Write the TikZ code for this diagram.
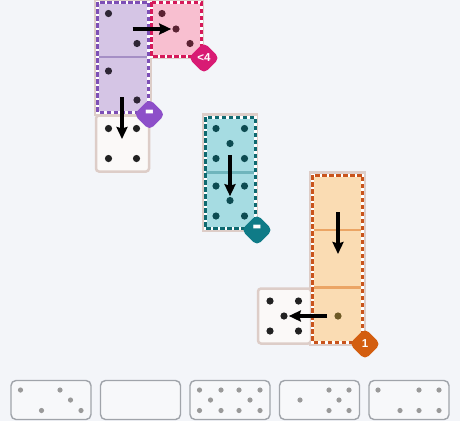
\documentclass[tikz,border=0pt]{standalone}
\usepackage{fontspec}
\setmainfont{Liberation Sans}
\newfontfamily\dejab{DejaVu Sans}
\usetikzlibrary{arrows.meta}
\definecolor{bg}{HTML}{F3F5F9}
\definecolor{basebd}{HTML}{DDCDC8}
\definecolor{wfill}{HTML}{FBF9F8}
\definecolor{wdot}{HTML}{222222}
\definecolor{pufill}{HTML}{D5C5E5}
\definecolor{pubd}{HTML}{7D4FB6}
\definecolor{pusep}{HTML}{A58FC5}
\definecolor{pudot}{HTML}{2E2635}
\definecolor{pkfill}{HTML}{F8BFD0}
\definecolor{pkbd}{HTML}{D51A5A}
\definecolor{pkdot}{HTML}{5B2333}
\definecolor{tefill}{HTML}{A6DCE2}
\definecolor{tebd}{HTML}{0E6970}
\definecolor{tesep}{HTML}{6FB5BC}
\definecolor{tedot}{HTML}{0D4B51}
\definecolor{orfill}{HTML}{FADCB3}
\definecolor{orbd}{HTML}{C9541C}
\definecolor{orsep}{HTML}{EBA565}
\definecolor{ordot}{HTML}{6E5A26}
\definecolor{bgpk}{HTML}{D81B74}
\definecolor{bgpu}{HTML}{8D4FC9}
\definecolor{bgte}{HTML}{0F7B87}
\definecolor{bgor}{HTML}{D35E10}
\definecolor{traybd}{HTML}{A0A4AA}
\definecolor{trayfill}{HTML}{F7F8FA}
\definecolor{traydot}{HTML}{9A9A9A}
\tikzset{
  whitecell/.style={draw=basebd, fill=wfill, line width=2.5pt, rounded corners=3pt, inner sep=0pt, outer sep=0pt},
  basecell/.style={draw=basebd, fill=white, line width=2.5pt, inner sep=0pt, outer sep=0pt},
  domfill/.style={fill=#1, draw=white, line width=3pt, inner sep=0pt, outer sep=0pt},
  domborder/.style={draw=#1, line width=3pt, dash pattern=on 4.5pt off 2.5pt},
  sepline/.style={draw=#1, line width=2.5pt},
  arr/.style={-{Stealth[length=12pt,width=11pt,inset=1.5pt]}, line width=3.2pt, black},
  badge/.style={fill=#1, rotate=45, minimum size=22pt, rounded corners=5pt, inner sep=0pt},
  badgetext/.style={text=white, font=\bfseries\fontsize{11.5}{11.5}\selectfont, inner sep=0pt},
  badgedash/.style={text=white, font=\dejab\bfseries\fontsize{13}{13}\selectfont, inner sep=0pt},
  traybox/.style={draw=traybd, fill=trayfill, line width=1.4pt, rounded corners=5pt, minimum width=80pt, minimum height=39pt, inner sep=0pt},
}
\begin{document}
\begin{tikzpicture}[x=1pt,y=-1pt]
\fill[bg] (0,0) rectangle (460,421);
\useasboundingbox (0,0) rectangle (460,421);

% base cells under dominoes
\node[basecell, minimum width=55pt, minimum height=115pt] (pubase) at (123,57) {};
\node[basecell, minimum width=54pt, minimum height=58pt] (pkbase) at (176,29) {};
\node[basecell, minimum width=54pt, minimum height=116pt] (tebase) at (230,172.5) {};
\node[basecell, minimum width=54pt, minimum height=172pt] (orbase) at (337.5,258.5) {};

% white cells
\node[whitecell, minimum width=53pt, minimum height=56pt] (w1) at (122.5,143.5) {};
\node[whitecell, minimum width=53pt, minimum height=55pt] (w2) at (284.5,316) {};

% purple domino
\node[domfill=pufill, minimum width=51pt, minimum height=110pt] (pu) at (123,57) {};
\draw[sepline=pusep] (99,57) -- (147,57);
\draw[domborder=pubd] (pu.north west) rectangle (pu.south east);
% pink cell
\node[domfill=pkfill, minimum width=50pt, minimum height=54pt] (pk) at (176,29) {};
\draw[domborder=pkbd] (pk.north west) rectangle (pk.south east);
% teal domino
\node[domfill=tefill, minimum width=50pt, minimum height=111pt] (te) at (230,172.5) {};
\draw[sepline=tesep] (206,172.5) -- (254,172.5);
\draw[domborder=tebd] (te.north west) rectangle (te.south east);
% orange domino
\node[domfill=orfill, minimum width=50pt, minimum height=167pt] (or) at (337.5,258.5) {};
\draw[sepline=orsep] (314,230) -- (361,230);
\draw[sepline=orsep] (314,287.5) -- (361,287.5);
\draw[domborder=orbd] (or.north west) rectangle (or.south east);

% dots
\foreach \p in {(108.5,13.5),(137,43.5),(108.5,71),(137,100)} \fill[pudot] \p circle (3.6pt);
\foreach \p in {(162,13.5),(190,43.5)} \fill[pkdot] \p circle (3.6pt);
\node[circle, fill=pkdot, minimum size=7.2pt, inner sep=0pt] (pkc) at (176,29) {};
\foreach \p in {(108.5,128.5),(136.5,128.5),(108.5,158.5),(136.5,158.5)} \fill[wdot] \p circle (3.6pt);
\foreach \p in {(216,128.5),(244.5,128.5),(230,143.5),(216,158.5),(244.5,158.5),
                (216,186),(244.5,186),(216,216),(244.5,216)} \fill[tedot] \p circle (3.6pt);
\node[circle, fill=tedot, minimum size=7.2pt, inner sep=0pt] (tec) at (230,200.5) {};
\node[circle, fill=ordot, minimum size=7.2pt, inner sep=0pt] (orc) at (338,316) {};
\foreach \p in {(270,301),(298.5,301),(270,331),(298.5,331)} \fill[wdot] \p circle (3.6pt);
\node[circle, fill=wdot, minimum size=7.2pt, inner sep=0pt] (w2c) at (284,316) {};

% arrows
\coordinate (a1) at (132.5,29);
\draw[arr, shorten >=1pt] (a1) -- (pkc);
\coordinate (a2) at (122,97);
\coordinate (a2e) at (122,139);
\draw[arr] (a2) -- (a2e);
\coordinate (a3) at (230,155);
\draw[arr, shorten >=0.5pt] (a3) -- (tec);
\coordinate (a4) at (338,212);
\coordinate (a4e) at (338,254);
\draw[arr] (a4) -- (a4e);
\draw[arr, shorten <=7pt, shorten >=1pt] (orc) -- (w2c);

% badges
\node[badge=bgpk] (bpk) at (204,58) {};
\node[badgetext] at (bpk) {<4};
\node[badge=bgpu] (bpu) at (149.5,114.5) {};
\node[badgedash] at (bpu) {\scalebox{1.8}[2]{-}};
\node[badge=bgte] (bte) at (257,230) {};
\node[badgedash] at (bte) {\scalebox{1.8}[2]{-}};
\node[badge=bgor] (bor) at (365,344) {};
\node[badgetext] at (bor) {1};

% tray
\node[traybox] (t1) at (51,400) {};
\node[traybox] (t2) at (140.5,400) {};
\node[traybox] (t3) at (230,400) {};
\node[traybox] (t4) at (319.5,400) {};
\node[traybox] (t5) at (409,400) {};
\foreach \p in {(20.5,390),(41.5,410.5),(60,390),(70.5,400),(81,410.5)} \fill[traydot] \p circle (2.6pt);
\foreach \p in {(199.5,390),(221,390),(210.5,400),(199.5,410.5),(221,410.5),
                (239,390),(260,390),(250,400),(239,410.5),(260,410.5)} \fill[traydot] \p circle (2.6pt);
\foreach \p in {(300,400),(329,390),(349,390),(339,400),(329,410.5),(349,410.5)} \fill[traydot] \p circle (2.6pt);
\foreach \p in {(378,390),(400,410.5),(419,390),(439,390),(419,410.5),(439,410.5)} \fill[traydot] \p circle (2.6pt);
\end{tikzpicture}
\end{document}
